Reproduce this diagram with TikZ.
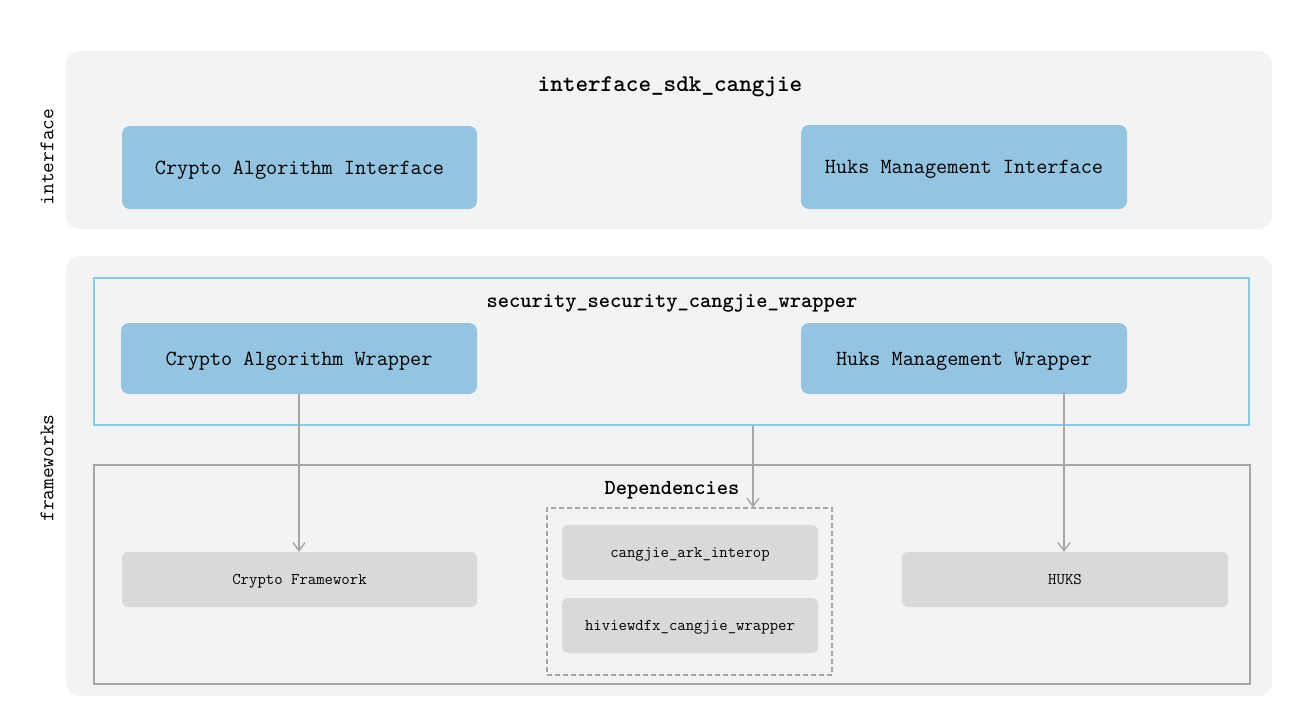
\documentclass[tikz,border=0pt]{standalone}
\usetikzlibrary{arrows.meta}
\definecolor{panel}{HTML}{F2F3F5}
\definecolor{bluefill}{HTML}{95C4E1}
\definecolor{bluestroke}{HTML}{8EC7E8}
\definecolor{grayfill}{HTML}{D9D9D9}
\definecolor{graystroke}{HTML}{A6A6A6}
\tikzset{
  panelbox/.style={fill=panel, rounded corners=14pt, inner sep=0pt},
  bluebox/.style={fill=bluefill, rounded corners=8pt, inner sep=0pt, text height=13.2pt, text depth=0pt, font=\ttfamily\fontsize{21.6pt}{22pt}\selectfont},
  graybox/.style={fill=grayfill, rounded corners=6pt, inner sep=0pt, text height=10pt, text depth=0pt, font=\ttfamily\fontsize{16.3pt}{18pt}\selectfont},
  titletext/.style={font=\ttfamily\bfseries\fontsize{21.4pt}{22pt}\selectfont, text height=13.1pt, text depth=0pt, inner sep=0pt},
  sidelabel/.style={rotate=90, font=\ttfamily\fontsize{20.8pt}{22pt}\selectfont, inner sep=0pt},
  conn/.style={draw=graystroke, line width=1.4pt, -{Straight Barb[length=8pt,width=12pt,line width=1.4pt]}},
}
\begin{document}
\begin{tikzpicture}[x=1pt,y=-1pt]
\useasboundingbox[fill=white] (0,0) rectangle (1306,715);
% panels
\node[panelbox, minimum width=1206pt, minimum height=178pt] (top) at (669,140) {};
\node[panelbox, minimum width=1206pt, minimum height=440pt] (bot) at (669,476) {};
\node[sidelabel] (lint) at (47,157) {interface};
\node[sidelabel] (lfw) at (47,468) {frameworks};
% top
\node[titletext, font=\ttfamily\bfseries\fontsize{24pt}{26pt}\selectfont, text height=14.7pt] (ttop) at (670,84) {interface\_sdk\_cangjie};
\node[bluebox, minimum width=355pt, minimum height=83pt] (cai) at (299.5,167.5) {Crypto Algorithm Interface};
\node[bluebox, minimum width=326pt, minimum height=84pt] (hmi) at (964,167) {Huks Management Interface};
% security wrapper
\node[draw=bluestroke, line width=1.3pt, minimum width=1155pt, minimum height=147pt, inner sep=0pt] (sec) at (671.5,351.5) {};
\node[titletext] (tsec) at (672,301) {security\_security\_cangjie\_wrapper};
\node[bluebox, minimum width=356pt, minimum height=71pt] (caw) at (299,358.5) {Crypto Algorithm Wrapper};
\node[bluebox, minimum width=326pt, minimum height=71pt] (hmw) at (964,358.5) {Huks Management Wrapper};
% dependencies
\node[draw=graystroke, line width=1.4pt, minimum width=1156pt, minimum height=219pt, inner sep=0pt] (dep) at (672,574.5) {};
\node[titletext] (tdep) at (672,488) {Dependencies};
\node[draw=graystroke, line width=1.2pt, dashed, dash pattern=on 5pt off 3pt, minimum width=285pt, minimum height=167pt, inner sep=0pt] (dash) at (689.5,591.5) {};
\node[graybox, minimum width=256pt, minimum height=55pt] (ark) at (690,552.5) {cangjie\_ark\_interop};
\node[graybox, minimum width=256pt, minimum height=55pt] (hiv) at (690,625.5) {hiviewdfx\_cangjie\_wrapper};
\node[graybox, minimum width=355pt, minimum height=55pt] (cf) at (299.5,579.5) {Crypto Framework};
\node[graybox, minimum width=326pt, minimum height=55pt] (huks) at (1065,579.5) {HUKS};
% connectors
\coordinate (mx) at (753,0);
\coordinate (rx) at (1064,0);
\draw[conn] (caw.south) -- (caw.south |- cf.north);
\draw[conn] (mx |- sec.south) -- (mx |- dash.north);
\draw[conn] ([yshift=3pt]rx |- hmw.south) -- (rx |- huks.north);
\end{tikzpicture}
\end{document}
